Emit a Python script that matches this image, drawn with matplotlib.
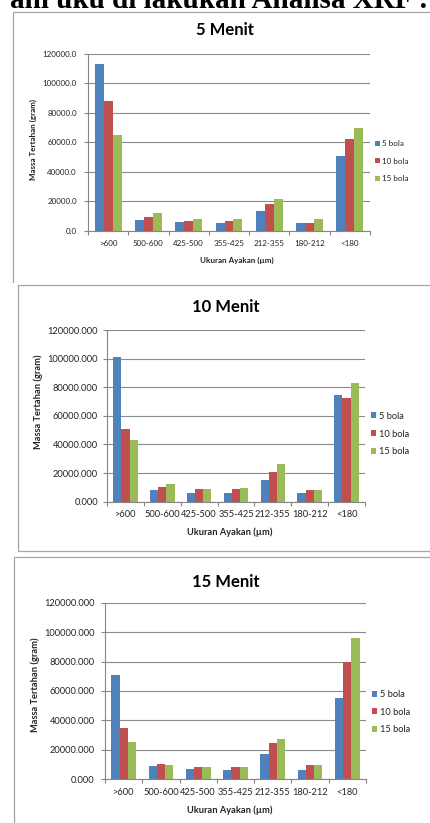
import numpy as np
import matplotlib.pyplot as plt
from matplotlib.lines import Line2D
from matplotlib.ticker import FuncFormatter

# ukuran ayakan (um)
categories = ['>600', '500-600', '425-500', '355-425', '212-355', '180-212', '<180']
series_names = ['5 bola', '10 bola', '15 bola']
colors = ['#4F81BD', '#C0504D', '#9BBB59']

# 5 menit
m5_bola5 = [113500, 7200, 5700, 5400, 13600, 5000, 50700]
m5_bola10 = [88000, 9000, 6800, 6800, 18300, 5200, 62200]
m5_bola15 = [65000, 11700, 8100, 7700, 21300, 7900, 69500]

# 10 menit
m10_bola5 = [101300, 8100, 6300, 5800, 15100, 5800, 74500]
m10_bola10 = [50500, 10500, 8600, 8600, 21000, 8100, 72200]
m10_bola15 = [43100, 12100, 8600, 9300, 26100, 8100, 83200]

# 15 menit
m15_bola5 = [70900, 9300, 6800, 6300, 17200, 6300, 55000]
m15_bola10 = [34600, 10200, 8100, 8100, 24500, 9500, 79900]
m15_bola15 = [25100, 9700, 8600, 8600, 27400, 9500, 95800]

W, H = 430, 823
plt.rcParams['font.family'] = ['Lato', 'DejaVu Sans']
fig = plt.figure(figsize=(W / 100, H / 100), dpi=100)
fig.patch.set_facecolor('white')


def box(x0, y0, x1, y1):
    return [x0 / W, 1 - y1 / H, (x1 - x0) / W, (y1 - y0) / H]


def px(x, y):
    return x / W, 1 - y / H


def edge(xs, ys):
    fig.add_artist(Line2D([x / W for x in xs], [1 - y / H for y in ys],
                          color='#a6a6a6', lw=0.9))


# text above the charts (cut by the page)
fig.text(*px(10, 7.5), 'ani uku di lakukan Analisa XRF :', family='Liberation Serif',
         fontsize=21, fontweight='bold', va='baseline', ha='left')

# chart frames
edge([13, 13, 440], [282, 12, 12])
edge([440, 18, 18, 440], [285, 285, 551, 551])
edge([440, 14, 14], [557, 557, 830])


def draw_chart(rect, data, title, title_xy, xlabel_xy, ylabel_xy, fmt, fs, ypad, xpad, leg_y, leg_sp):
    ax = fig.add_axes(box(*rect))
    x = np.arange(len(categories))
    w = 0.222
    for i, (vals, name) in enumerate(zip(data, series_names)):
        ax.bar(x + (i - 1) * w, vals, w, color=colors[i], label=name, zorder=3)
    ax.set_xlim(-0.5, len(categories) - 0.5)
    ax.set_ylim(0, 120000)
    ax.set_yticks(np.arange(0, 120001, 20000))
    ax.yaxis.set_major_formatter(FuncFormatter(lambda v, p: fmt.format(v)))
    ax.set_xticks(np.arange(-0.5, len(categories), 1))
    ax.set_xticklabels([])
    ax.set_xticks(x, minor=True)
    ax.set_xticklabels(categories, minor=True)
    ax.tick_params(axis='x', which='major', length=3, color='#868686', width=0.8)
    ax.tick_params(axis='x', which='minor', length=0, pad=xpad, labelsize=fs, labelcolor='#222222')
    ax.tick_params(axis='y', length=3, color='#868686', width=0.8, pad=ypad,
                   labelsize=fs, labelcolor='#222222')
    ax.grid(axis='y', color='#8c8c8c', lw=0.8, zorder=0)
    for s in ['top', 'right']:
        ax.spines[s].set_visible(False)
    for s in ['left', 'bottom']:
        ax.spines[s].set_color('#868686')
        ax.spines[s].set_linewidth(0.8)
    ax.spines['bottom'].set_zorder(4)
    fig.text(*px(*title_xy), title, fontsize=12, fontweight='bold', ha='center', va='center')
    fig.text(*px(*xlabel_xy), 'Ukuran Ayakan (µm)', fontsize=fs, fontweight='bold',
             ha='center', va='center', color='#222222')
    fig.text(*px(*ylabel_xy), 'Massa Tertahan (gram)', fontsize=fs, fontweight='bold',
             ha='center', va='center', rotation=90, color='#222222')
    ax.legend(loc='center left', bbox_to_anchor=(1.0, leg_y), frameon=False, fontsize=fs,
              handlelength=0.6, handleheight=0.6, handletextpad=0.3, labelspacing=leg_sp,
              borderaxespad=0.2, labelcolor='#222222')
    return ax


draw_chart((88, 54, 370, 230.7), [m5_bola5, m5_bola10, m5_bola15], '5 Menit',
           (225, 30), (237, 260), (33, 140), '{:.1f}', 5.8, 5, 7, 0.394, 1.3)
draw_chart((107, 330, 365, 501.7), [m10_bola5, m10_bola10, m10_bola15], '10 Menit',
           (226, 307), (230, 532), (38, 402), '{:.3f}', 6.7, 3.5, 6, 0.394, 0.95)
draw_chart((105, 602.7, 366, 779.3), [m15_bola5, m15_bola10, m15_bola15], '15 Menit',
           (226, 582), (230, 810), (35, 685), '{:.3f}', 6.7, 4.5, 6, 0.381, 0.9)

fig.savefig('out.png', dpi=100)
